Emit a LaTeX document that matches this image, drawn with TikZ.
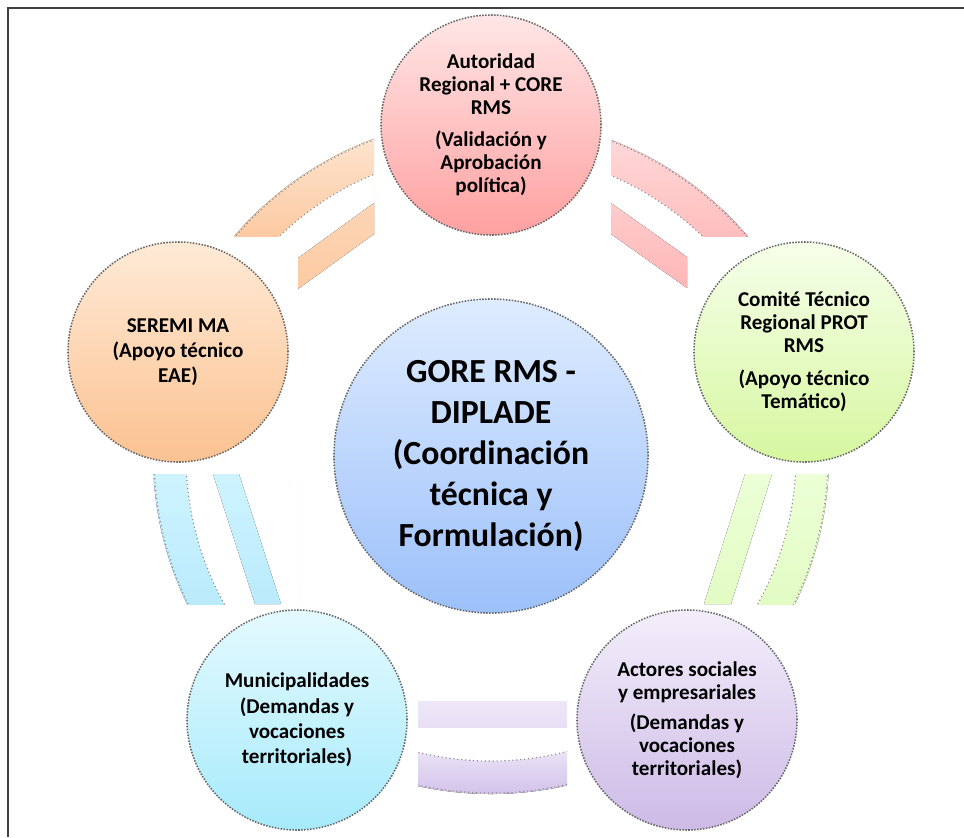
\documentclass[tikz,border=0pt]{standalone}
\usepackage{fontspec}
\setmainfont{Carlito}
\usetikzlibrary{positioning}
\definecolor{pinkT}{RGB}{255,230,230}
\definecolor{pinkB}{RGB}{255,160,160}
\definecolor{orangeT}{RGB}{255,234,214}
\definecolor{orangeB}{RGB}{251,194,145}
\definecolor{greenT}{RGB}{246,255,234}
\definecolor{greenB}{RGB}{214,247,160}
\definecolor{blueT}{RGB}{222,236,255}
\definecolor{blueB}{RGB}{156,192,250}
\definecolor{cyanT}{RGB}{228,250,255}
\definecolor{cyanB}{RGB}{166,234,251}
\definecolor{lilacT}{RGB}{243,238,251}
\definecolor{lilacB}{RGB}{205,186,230}
\definecolor{orangeA}{RGB}{253,230,210}
\definecolor{orangeC}{RGB}{252,202,162}
\definecolor{orangeD}{RGB}{252,214,182}
\definecolor{pinkA}{RGB}{255,218,218}
\definecolor{pinkC}{RGB}{255,190,190}
\definecolor{pinkD}{RGB}{255,204,204}
\definecolor{pinkE}{RGB}{255,182,182}
\definecolor{cyanA}{RGB}{206,243,255}
\definecolor{cyanC}{RGB}{186,235,252}
\definecolor{greenA}{RGB}{236,255,214}
\definecolor{greenC}{RGB}{226,252,196}
\definecolor{lilacA}{RGB}{238,231,248}
\definecolor{lilacC}{RGB}{207,190,232}
\tikzset{
    bubble/.style={
    circle,draw=black!60,densely dotted,line width=1.1pt,minimum size=5.5cm,
    inner sep=0pt,align=center,font=\fontsize{15}{16.4}\selectfont\bfseries
    },
    hub/.style={
    bubble,minimum size=7.85cm,font=\fontsize{24}{29}\selectfont\bfseries
    },
    rim/.style={
    draw=black!45,dotted,line width=0.8pt
    },
    frame/.style={
    draw=black!75,line width=1.5pt
    },
}
\begin{document}
\begin{tikzpicture}[x=0.025cm,y=-0.025cm]
  \useasboundingbox (0,0) rectangle (964,837);
  \draw[frame] (8,837) -- (8,8) -- (964,8);

  \coordinate (C) at (491,456);

  % curved bands
  \foreach \xa/\ya/\xb/\yb/\ca/\cb in {200/130/374/236/orangeA/orangeC,
      611/130/780/236/pinkA/pinkC, 140/474/300/604/cyanA/cyanC,
      680/474/850/604/greenA/greenC, 418/745/567/800/lilacA/lilacC}{
    \begin{scope}
      \clip (\xa,\ya) rectangle (\xb,\yb);
      \clip (C) circle (338);
      \fill[top color=\ca,bottom color=\cb] (\xa,\ya) rectangle (\xb,\yb);
      \fill[white] (C) circle (305);
      \draw[rim] (C) circle (305) (C) circle (337);
    \end{scope}
  }

  % straight bands
  \fill[top color=orangeD,bottom color=orangeC] (298,258) -- (374,203) -- (374,234) -- (298,289) -- cycle;
  \fill[top color=pinkD,bottom color=pinkE] (611,203) -- (687,257) -- (687,288) -- (611,234) -- cycle;
  \fill[top color=cyanA,bottom color=cyanC] (213,474) -- (239,474) -- (281,604) -- (255,604) -- cycle;
  \fill[top color=greenA,bottom color=greenC] (745,474) -- (772,474) -- (731,604) -- (704,604) -- cycle;
  \fill[top color=lilacA,bottom color=lilacA!80!lilacC] (418,701) rectangle (567,727);

  \node[bubble,top color=pinkT,bottom color=pinkB] (AUT) at (491,125)
    {Autoridad\\Regional + CORE\\RMS\\[6pt](Validación y\\Aprobación\\política)};
  \node[bubble,top color=orangeT,bottom color=orangeB,font=\fontsize{15}{18}\selectfont\bfseries] (SEREMI) at (178,352)
    {SEREMI MA\\(Apoyo técnico\\EAE)};
  \node[bubble,top color=greenT,bottom color=greenB] (COMITE) at (804,352)
    {Comité Técnico\\Regional PROT\\RMS\\[7pt](Apoyo técnico\\Temático)};
  \node[hub,top color=blueT,bottom color=blueB] (GORE) at (C)
    {GORE RMS -\\DIPLADE\\(Coordinación\\técnica y\\Formulación)};
  \node[bubble,top color=cyanT,bottom color=cyanB,font=\fontsize{15}{18}\selectfont\bfseries] (MUNI) at (297,720)
    {Municipalidades\\(Demandas y\\vocaciones\\territoriales)};
  \node[bubble,top color=lilacT,bottom color=lilacB] (ACT) at (687,720)
    {Actores sociales\\y empresariales\\[5pt](Demandas y\\vocaciones\\territoriales)};
\end{tikzpicture}
\end{document}
